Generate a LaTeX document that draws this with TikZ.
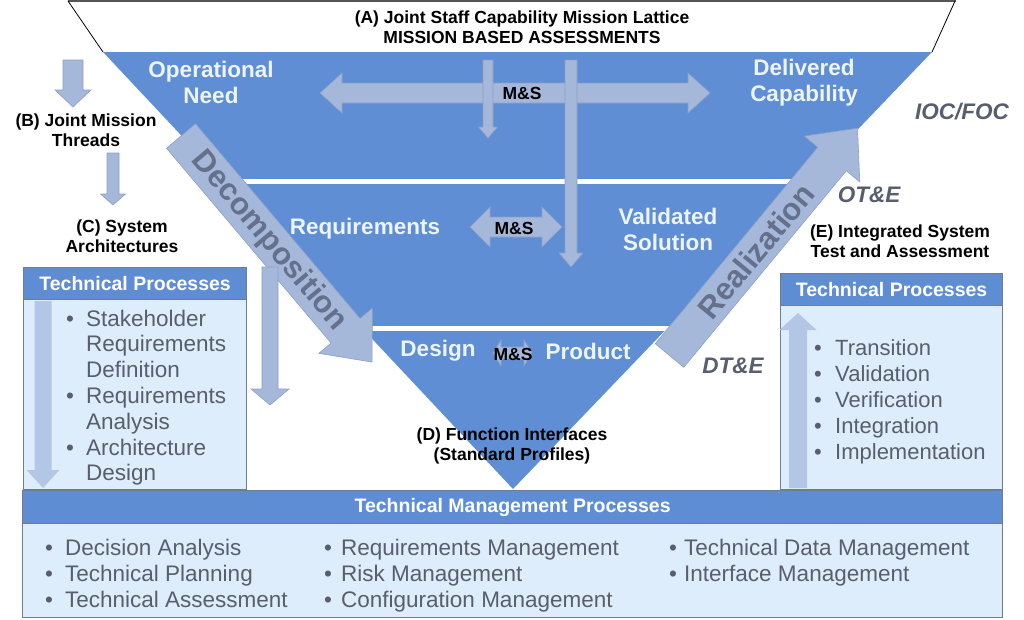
\documentclass[tikz,border=0pt]{standalone}
\usepackage{fontspec}
\setmainfont{Liberation Sans}
\definecolor{triblue}{RGB}{95,142,212}
\definecolor{hdrblue}{RGB}{94,141,211}
\definecolor{bodyfill}{RGB}{222,237,251}
\definecolor{boxedge}{RGB}{112,124,145}
\definecolor{arrfill}{RGB}{166,184,218}
\definecolor{arredge}{RGB}{140,160,200}
\definecolor{palefill}{RGB}{180,198,230}
\definecolor{rottext}{RGB}{100,112,140}
\definecolor{graylab}{RGB}{88,94,110}
\definecolor{bultext}{RGB}{88,94,108}
\definecolor{tritext}{RGB}{236,244,252}
\definecolor{topline}{RGB}{85,85,85}
\newcommand{\blt}[1]{\makebox[#1][l]{\textbullet}}
\tikzset{
  arrowstyle/.style={fill=arrfill, draw=arredge, line width=0.6pt},
  palearrow/.style={fill=palefill, draw=none},
  pics/blockarrow/.style n args={5}{code={
    \path[#5] (0,{-#2/2}) -- ({#1-#4},{-#2/2}) -- ({#1-#4},{-#3/2}) -- (#1,0)
      -- ({#1-#4},{#3/2}) -- ({#1-#4},{#2/2}) -- (0,{#2/2}) -- cycle;
  }},
  pics/dblarrow/.style n args={5}{code={
    \path[#5] (0,0) -- (#4,{-#3/2}) -- (#4,{-#2/2}) -- ({#1-#4},{-#2/2}) -- ({#1-#4},{-#3/2})
      -- (#1,0) -- ({#1-#4},{#3/2}) -- ({#1-#4},{#2/2}) -- (#4,{#2/2}) -- (#4,{#3/2}) -- cycle;
  }},
  tlabel/.style={font=\bfseries\fontsize{22.5}{26}\selectfont, text=tritext, align=center, inner sep=0pt},
  blab/.style={font=\bfseries\fontsize{17.5}{20.5}\selectfont, text=black, align=center, inner sep=0pt},
  mslab/.style={font=\bfseries\fontsize{17.5}{20}\selectfont, text=black, inner sep=0pt},
  glab/.style={font=\bfseries\itshape\fontsize{22.5}{26}\selectfont, text=graylab, inner sep=0pt},
  rotlab/.style={font=\bfseries\fontsize{31}{36}\selectfont, text=rottext, inner sep=0pt},
  hdr/.style={font=\bfseries\fontsize{19.5}{22}\selectfont, text=white},
  bul/.style={font=\fontsize{22.5}{26}\selectfont, text=bultext, anchor=base west, inner sep=0pt},
  bulsm/.style={font=\fontsize{22}{26}\selectfont, text=bultext, anchor=base west, inner sep=0pt},
  hdrbox/.style={fill=hdrblue, draw=boxedge, line width=1.2pt, inner sep=0pt, anchor=north west},
  bodybox/.style={fill=bodyfill, draw=boxedge, line width=1.2pt, inner sep=0pt, anchor=north west},
}
\begin{document}
\begin{tikzpicture}[x=1pt,y=-1pt]
\useasboundingbox (0,0) rectangle (1024,619);
% top outline
\draw[topline, line width=2.5pt] (68,1) -- (956,1);
\draw[black, line width=0.8pt] (68,1) -- (103,52);
\draw[black, line width=0.8pt] (955,1) -- (932,52);
% inverted triangle
\fill[triblue] (103,52) -- (932,52) -- (513,489) -- cycle;
\begin{scope}
  \clip (103,52) -- (932,52) -- (513,489) -- cycle;
  \fill[white] (90,179) rectangle (940,184);
  \fill[white] (90,326) rectangle (940,331);
\end{scope}
% M&S arrows
\pic at (320,93) {dblarrow={390}{20}{40}{22}{arrowstyle}};
\pic[rotate=-90] at (488,60) {blockarrow={78}{10}{19}{11}{arrowstyle}};
\pic[rotate=-90] at (571,60) {blockarrow={207}{12}{24}{14}{arrowstyle}};
\pic at (470,227) {dblarrow={92}{20}{40}{20}{arrowstyle}};
\pic at (493,353) {dblarrow={39}{12}{26}{8}{arrowstyle}};
% Decomposition / Realization arrows
\pic[rotate=-49.8] at (181,136) {blockarrow={296}{38}{70}{41}{arrowstyle}};
\pic[rotate=50.4] at (669.5,355.5) {blockarrow={295}{37}{72}{40}{arrowstyle}};
% left-side arrows
\pic[rotate=-90] at (73,60) {blockarrow={47}{20}{36}{17}{arrowstyle}};
\pic[rotate=-90] at (113,153) {blockarrow={52}{12}{25}{11}{arrowstyle}};
\pic[rotate=-90] at (270,267) {blockarrow={138}{16}{38}{16}{arrowstyle}};
% left technical processes box
\node[bodybox, minimum width=223pt, minimum height=190pt] (lbody) at (23,299) {};
\node[hdrbox, hdr, minimum width=223pt, minimum height=32pt] (lhdr) at (23,267) {Technical Processes};
\pic[rotate=-90] at (43,301) {blockarrow={187}{17}{33}{18}{palearrow}};
% right technical processes box
\node[bodybox, minimum width=222pt, minimum height=184pt] (rbody) at (780,305) {};
\node[hdrbox, hdr, minimum width=222pt, minimum height=32pt] (rhdr) at (780,273) {Technical Processes};
\pic[rotate=90] at (798,488) {blockarrow={175}{18}{37}{17}{palearrow}};
% bottom box
\node[bodybox, minimum width=980pt, minimum height=94pt] (bbody) at (22,523) {};
\node[hdrbox, hdr, minimum width=980pt, minimum height=33pt] (bhdr) at (22,490) {Technical Management Processes};
% left box bullets
\foreach \t [count=\i] in {{\blt{20pt}Stakeholder},{\hspace*{20pt}Requirements},{\hspace*{20pt}Definition},{\blt{20pt}Requirements},{\hspace*{20pt}Analysis},{\blt{20pt}Architecture},{\hspace*{20pt}Design}}
  \node[bul] (lb\i) at (66,{326+(\i-1)*25.8}) {\t};
% right box bullets
\foreach \t [count=\i] in {Transition,Validation,Verification,Integration,Implementation}
  \node[bulsm] (rb\i) at (814,{355+(\i-1)*26}) {\blt{21pt}\t};
% bottom box bullets
\foreach \t [count=\i] in {Decision Analysis,Technical Planning,Technical Assessment}
  \node[bul] (ba\i) at (45,{555+(\i-1)*26}) {\blt{20pt}\t};
\foreach \t [count=\i] in {Requirements Management,Risk Management,Configuration Management}
  \node[bul] (bb\i) at (324,{555+(\i-1)*26}) {\blt{17pt}\t};
\foreach \t [count=\i] in {Technical Data Management,Interface Management}
  \node[bul] (bc\i) at (669,{555+(\i-1)*26}) {\blt{15pt}\t};
% black labels
\node[blab] (A) at (522,27) {(A) Joint Staff Capability Mission Lattice\\MISSION BASED ASSESSMENTS};
\node[blab] (B) at (86,130) {(B) Joint Mission\\Threads};
\node[blab] (C) at (122,236) {(C) System\\Architectures};
\node[blab] (D) at (512,446) {(D) Function Interfaces\\(Standard Profiles)};
\node[blab] (E) at (900,241) {(E) Integrated System\\Test and Assessment};
% triangle labels
\node[tlabel] (opneed) at (211,82) {Operational\\Need};
\node[tlabel] (delcap) at (804,83) {Delivered\\Capability};
\node[tlabel] (req) at (365,229) {Requirements};
\node[tlabel] (valsol) at (668,229) {Validated\\Solution};
\node[tlabel] (design) at (438,351) {Design};
\node[tlabel] (product) at (588,351) {Product};
% M&S labels
\node[mslab] (ms1) at (522,93) {M\&S};
\node[mslab] (ms2) at (514,228) {M\&S};
\node[mslab] (ms3) at (513,354) {M\&S};
% gray italic labels
\node[glab] (ioc) at (962,112) {IOC/FOC};
\node[glab] (ote) at (869,195) {OT\&E};
\node[glab] (dte) at (733,366) {DT\&E};
% rotated arrow labels
\node[rotlab, rotate=-49.8] (decomp) at (269,241) {Decomposition};
\node[rotlab, rotate=50.4] (realiz) at (756,251) {Realization};
\end{tikzpicture}
\end{document}
